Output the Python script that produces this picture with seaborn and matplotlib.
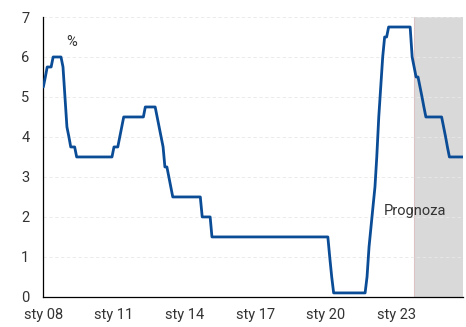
"""NBP reference rate, monthly, with forecast shading."""

import matplotlib
matplotlib.use("Agg")
import matplotlib.dates as mdates
import matplotlib.pyplot as plt
import pandas as pd
import seaborn as sns

# ── Data (monthly, Jan 2008 – Nov 2025) ───────────────────────────────────
rate_2008 = [5.25, 5.5, 5.75, 5.75, 5.75, 6.0, 6.0, 6.0, 6.0, 6.0, 5.75, 5.0]
rate_2009 = [4.25, 4.0, 3.75, 3.75, 3.75, 3.5, 3.5, 3.5, 3.5, 3.5, 3.5, 3.5]
rate_2010 = [3.5, 3.5, 3.5, 3.5, 3.5, 3.5, 3.5, 3.5, 3.5, 3.5, 3.5, 3.5]
rate_2011 = [3.75, 3.75, 3.75, 4.0, 4.25, 4.5, 4.5, 4.5, 4.5, 4.5, 4.5, 4.5]
rate_2012 = [4.5, 4.5, 4.5, 4.5, 4.75, 4.75, 4.75, 4.75, 4.75, 4.75, 4.5, 4.25]
rate_2013 = [4.0, 3.75, 3.25, 3.25, 3.0, 2.75, 2.5, 2.5, 2.5, 2.5, 2.5, 2.5]
rate_2014 = [2.5, 2.5, 2.5, 2.5, 2.5, 2.5, 2.5, 2.5, 2.5, 2.0, 2.0, 2.0]
rate_2015 = [2.0, 2.0, 1.5, 1.5, 1.5, 1.5, 1.5, 1.5, 1.5, 1.5, 1.5, 1.5]
rate_2016 = [1.5, 1.5, 1.5, 1.5, 1.5, 1.5, 1.5, 1.5, 1.5, 1.5, 1.5, 1.5]
rate_2017 = [1.5, 1.5, 1.5, 1.5, 1.5, 1.5, 1.5, 1.5, 1.5, 1.5, 1.5, 1.5]
rate_2018 = [1.5, 1.5, 1.5, 1.5, 1.5, 1.5, 1.5, 1.5, 1.5, 1.5, 1.5, 1.5]
rate_2019 = [1.5, 1.5, 1.5, 1.5, 1.5, 1.5, 1.5, 1.5, 1.5, 1.5, 1.5, 1.5]
rate_2020 = [1.5, 1.5, 1.0, 0.5, 0.1, 0.1, 0.1, 0.1, 0.1, 0.1, 0.1, 0.1]
rate_2021 = [0.1, 0.1, 0.1, 0.1, 0.1, 0.1, 0.1, 0.1, 0.1, 0.5, 1.25, 1.75]
rate_2022 = [2.25, 2.75, 3.5, 4.5, 5.25, 6.0, 6.5, 6.5, 6.75, 6.75, 6.75, 6.75]
rate_2023 = [6.75, 6.75, 6.75, 6.75, 6.75, 6.75, 6.75, 6.75, 6.0, 5.75, 5.5, 5.5]
rate_2024 = [5.25, 5.0, 4.75, 4.5, 4.5, 4.5, 4.5, 4.5, 4.5, 4.5, 4.5, 4.5]
rate_2025 = [4.25, 4.0, 3.75, 3.5, 3.5, 3.5, 3.5, 3.5, 3.5, 3.5, 3.5]

start_month = "2008-01-01"
forecast_start = "2023-10-01"
label_years = [2008, 2011, 2014, 2017, 2020, 2023]
y_ticks = [0, 1, 2, 3, 4, 5, 6, 7]

rates = (rate_2008 + rate_2009 + rate_2010 + rate_2011 + rate_2012 + rate_2013
         + rate_2014 + rate_2015 + rate_2016 + rate_2017 + rate_2018 + rate_2019
         + rate_2020 + rate_2021 + rate_2022 + rate_2023 + rate_2024 + rate_2025)
df = pd.DataFrame({
    "date": pd.date_range(start_month, periods=len(rates), freq="MS"),
    "rate": rates,
})

# ── Style ─────────────────────────────────────────────────────────────────
sns.set_style("white")
plt.rcParams["font.family"] = ["Roboto", "DejaVu Sans"]
TEXT = "#333333"
BLUE = "#0b4c96"

fig = plt.figure(figsize=(4.66, 3.27), dpi=100)
ax = fig.add_axes([0.093, 0.092, 0.901, 0.856])

ax.axvspan(pd.Timestamp(forecast_start), df["date"].iloc[-1],
           color="#d9d9d9", lw=0, zorder=0)
ax.axvline(pd.Timestamp(forecast_start), color="#dcc4c4", lw=0.8, zorder=0.5)

sns.lineplot(data=df, x="date", y="rate", ax=ax, color=BLUE, lw=2.0, zorder=3)

ax.set_xlim(df["date"].iloc[0], df["date"].iloc[-1])
ax.set_ylim(0, 7)
ax.set_yticks(y_ticks)
ax.yaxis.grid(True, color="#e8e8e8", ls=(0, (4, 3)), lw=0.6)
ax.set_axisbelow(True)

ax.set_xticks([pd.Timestamp(year=y, month=1, day=1) for y in label_years])
ax.set_xticklabels([f"sty {y % 100:02d}" for y in label_years])
ax.xaxis.set_minor_locator(mdates.YearLocator(1, month=1, day=1))

for side in ("top", "right"):
    ax.spines[side].set_visible(False)
for side in ("left", "bottom"):
    ax.spines[side].set_color("black")
    ax.spines[side].set_linewidth(0.9)

ax.tick_params(axis="both", which="both", direction="out", length=4,
               width=0.9, color="black", labelsize=10.5, labelcolor=TEXT)
ax.tick_params(axis="y", pad=6)
ax.tick_params(axis="x", pad=4)
ax.set_xlabel("")
ax.set_ylabel("")

ax.text(0.068, 0.91, "%", transform=ax.transAxes, ha="center", va="center",
        fontsize=10.5, color=TEXT)
ax.text(0.886, 0.307, "Prognoza", transform=ax.transAxes, ha="center",
        va="center", fontsize=10.5, color=TEXT, zorder=4)

fig.savefig("out.png", dpi=100)
plt.close(fig)
